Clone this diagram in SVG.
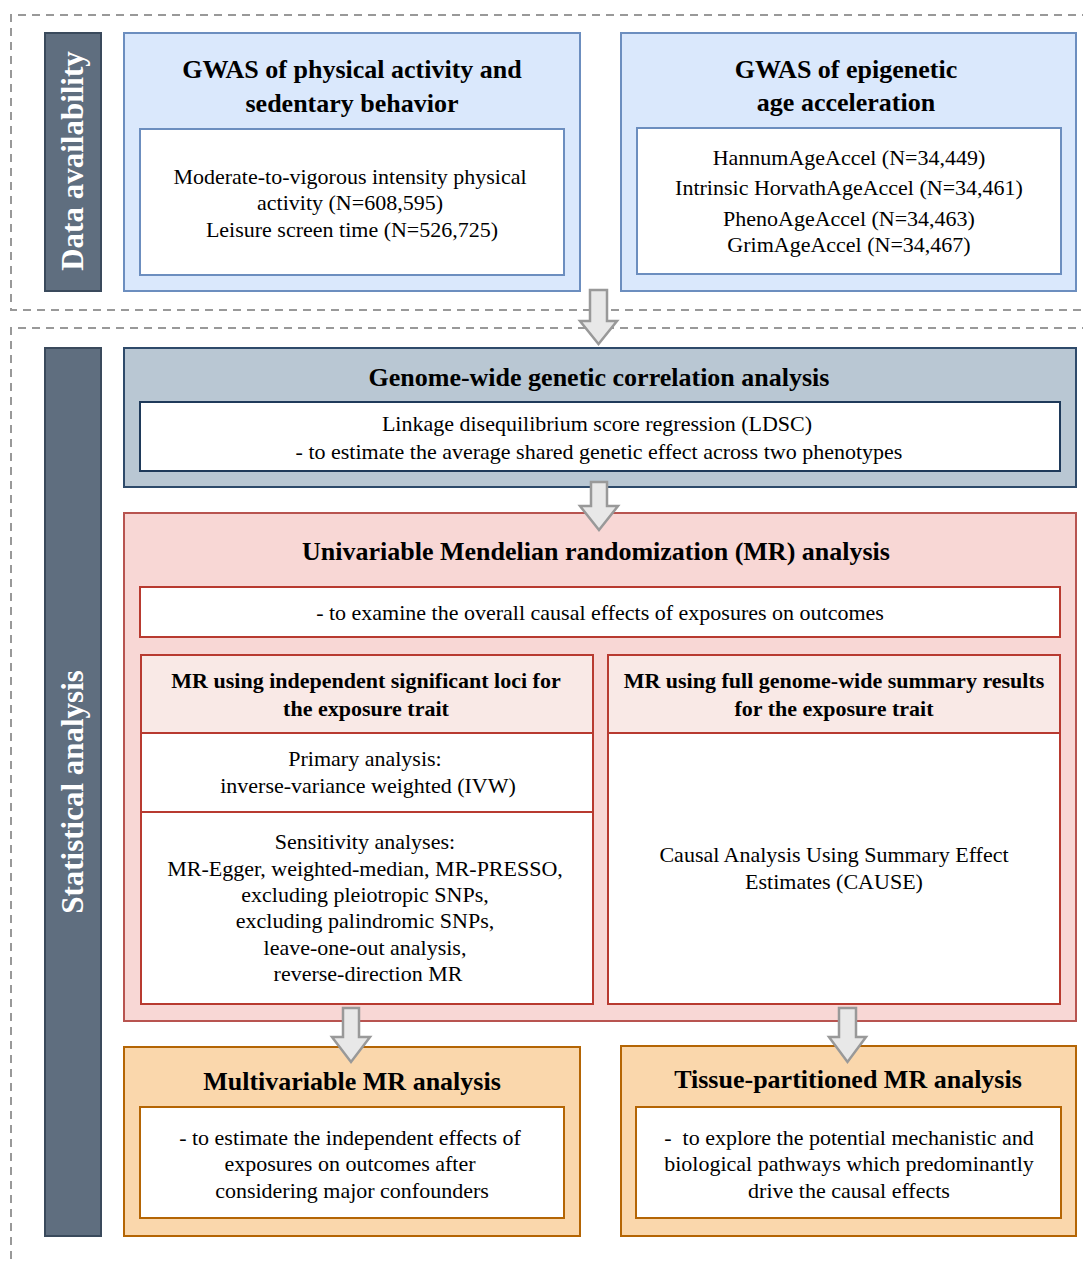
<svg xmlns="http://www.w3.org/2000/svg" width="1083" height="1261" viewBox="0 0 1083 1261">
<style>
text{font-family:"Liberation Serif","Times New Roman",serif;fill:#000;text-anchor:middle}
.t{font-weight:bold;font-size:26px}
.s{font-weight:bold;font-size:22px}
.b{font-size:22px}
.side{font-weight:bold;font-size:31px;fill:#fff}
.pre{white-space:pre}
.dash{fill:none;stroke:#999;stroke-width:2;stroke-dasharray:8 6}
.sidebox{fill:#5f6e7f;stroke:#3a4a5c;stroke-width:2}
.blue{fill:#dae8fc;stroke:#6c8ebf;stroke-width:2}
.bluein{fill:#fff;stroke:#6c8ebf;stroke-width:2}
.gray{fill:#b9c7d3;stroke:#2e4a6a;stroke-width:2}
.grayin{fill:#fff;stroke:#1f3a5a;stroke-width:2}
.red{fill:#f8d7d5;stroke:#b85450;stroke-width:2}
.redin{fill:#fff;stroke:#b83a30;stroke-width:2}
.redhd{fill:#f9e9e6;stroke:#b83a30;stroke-width:2}
.org{fill:#fad7ac;stroke:#b46504;stroke-width:2}
.orgin{fill:#fff;stroke:#b46504;stroke-width:2}
.arr{fill:#e8e8e8;stroke:#999;stroke-width:2.5;stroke-linejoin:miter}
</style>
<rect width="1083" height="1261" fill="#fff"/>
<g id="sections">
<path class="dash" d="M1090 15 H11 V310 H1090"/>
<path class="dash" d="M1090 328 H11 V1270"/>
</g>
<g id="label-data">
<rect class="sidebox" x="45" y="33" width="56" height="258"/>
<text class="side" transform="translate(83 161) rotate(-90)">Data availability</text>
</g>
<g id="label-stat">
<rect class="sidebox" x="45" y="348" width="56" height="888"/>
<text class="side" transform="translate(83 792) rotate(-90)">Statistical analysis</text>
</g>
<g id="gwas-pa">
<rect class="blue" x="124" y="33" width="456" height="258"/>
<text class="t" x="352" y="78">GWAS of physical activity and</text>
<text class="t" x="352" y="112">sedentary behavior</text>
<rect class="bluein" x="140" y="129" width="424" height="146"/>
<text class="b" x="350" y="184">Moderate-to-vigorous intensity physical</text>
<text class="b" x="350" y="210">activity (N=608,595)</text>
<text class="b" x="352" y="237">Leisure screen time (N=526,725)</text>
</g>
<g id="gwas-epi">
<rect class="blue" x="621" y="33" width="455" height="258"/>
<text class="t" x="846" y="78">GWAS of epigenetic</text>
<text class="t" x="846" y="111">age acceleration</text>
<rect class="bluein" x="637" y="128" width="424" height="146"/>
<text class="b" x="849" y="165">HannumAgeAccel (N=34,449)</text>
<text class="b" x="849" y="195">Intrinsic HorvathAgeAccel (N=34,461)</text>
<text class="b" x="849" y="226">PhenoAgeAccel (N=34,463)</text>
<text class="b" x="849" y="252">GrimAgeAccel (N=34,467)</text>
</g>
<g id="ldsc">
<rect class="gray" x="124" y="348" width="952" height="139"/>
<text class="t" x="599" y="386">Genome-wide genetic correlation analysis</text>
<rect class="grayin" x="140" y="402" width="920" height="69"/>
<text class="b" x="597" y="431">Linkage disequilibrium score regression (LDSC)</text>
<text class="b" x="599" y="459">- to estimate the average shared genetic effect across two phenotypes</text>
</g>
<g id="univariable-mr">
<rect class="red" x="124" y="513" width="952" height="508"/>
<text class="t" x="596" y="560">Univariable Mendelian randomization (MR) analysis</text>
<rect class="redin" x="140" y="587" width="920" height="50"/>
<text class="b" x="600" y="620">- to examine the overall causal effects of exposures on outcomes</text>
</g>
<g id="mr-loci">
<rect class="redin" x="141" y="655" width="452" height="349"/>
<rect class="redhd" x="141" y="655" width="452" height="78"/>
<line x1="141" y1="812" x2="593" y2="812" stroke="#b83a30" stroke-width="2"/>
<text class="s" x="366" y="688">MR using independent significant loci for</text>
<text class="s" x="366" y="716">the exposure trait</text>
<text class="b" x="365" y="766">Primary analysis:</text>
<text class="b" x="368" y="793">inverse-variance weighted (IVW)</text>
<text class="b" x="365" y="849">Sensitivity analyses:</text>
<text class="b" x="365" y="876">MR-Egger, weighted-median, MR-PRESSO,</text>
<text class="b" x="365" y="902">excluding pleiotropic SNPs,</text>
<text class="b" x="365" y="928">excluding palindromic SNPs,</text>
<text class="b" x="365" y="955">leave-one-out analysis,</text>
<text class="b" x="368" y="981">reverse-direction MR</text>
</g>
<g id="mr-full">
<rect class="redin" x="608" y="655" width="452" height="349"/>
<rect class="redhd" x="608" y="655" width="452" height="78"/>
<text class="s" x="834" y="688">MR using full genome-wide summary results</text>
<text class="s" x="834" y="716">for the exposure trait</text>
<text class="b" x="834" y="862">Causal Analysis Using Summary Effect</text>
<text class="b" x="834" y="889">Estimates (CAUSE)</text>
</g>
<g id="multivariable-mr">
<rect class="org" x="124" y="1047" width="456" height="189"/>
<text class="t" x="352" y="1090">Multivariable MR analysis</text>
<rect class="orgin" x="140" y="1107" width="424" height="111"/>
<text class="b" x="350" y="1145">- to estimate the independent effects of</text>
<text class="b" x="350" y="1171">exposures on outcomes after</text>
<text class="b" x="352" y="1198">considering major confounders</text>
</g>
<g id="tissue-mr">
<rect class="org" x="621" y="1046" width="455" height="190"/>
<text class="t" x="848" y="1088">Tissue-partitioned MR analysis</text>
<rect class="orgin" x="636" y="1107" width="425" height="111"/>
<text class="b pre" x="849" y="1145">-  to explore the potential mechanistic and</text>
<text class="b" x="849" y="1171">biological pathways which predominantly</text>
<text class="b" x="849" y="1198">drive the causal effects</text>
</g>
<g id="connectors">
<polygon class="arr" points="590,290 607,290 607,321 617,321 598.5,344 580,321 590,321"/>
<polygon class="arr" points="591,482 607,482 607,506 618,506 599,530 580,506 591,506"/>
<polygon class="arr" points="343,1008 359,1008 359,1037 370,1037 351,1062 332,1037 343,1037"/>
<polygon class="arr" points="839,1008 856,1008 856,1037 866,1037 847.5,1062 829,1037 839,1037"/>
</g>
</svg>
